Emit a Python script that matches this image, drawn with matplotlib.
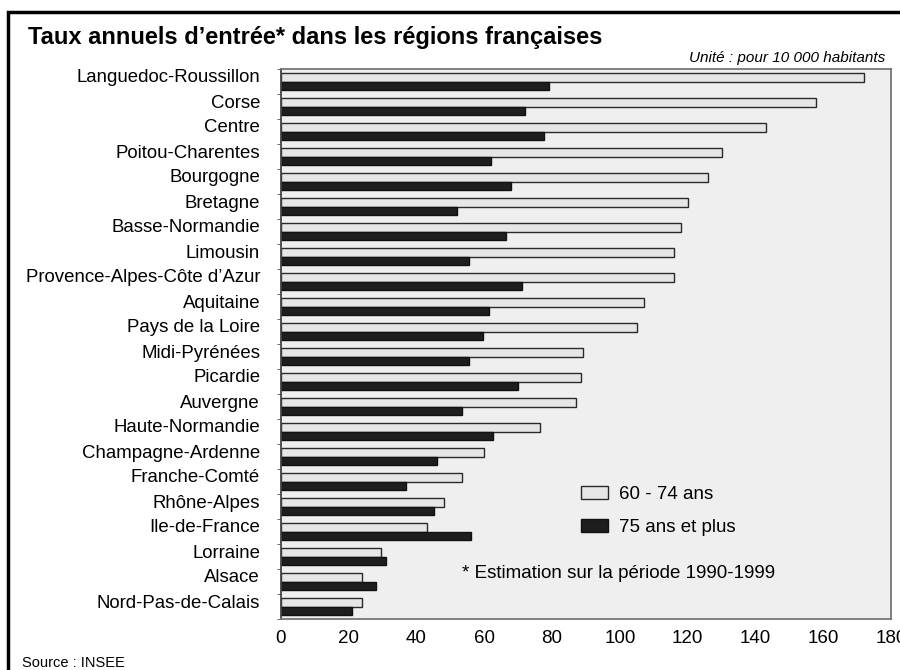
import numpy as np
import matplotlib
matplotlib.use('Agg')
import matplotlib.pyplot as plt
from matplotlib.patches import Rectangle

plt.rcParams['font.family'] = ['Liberation Sans', 'DejaVu Sans']

regions = ["Languedoc-Roussillon", "Corse", "Centre", "Poitou-Charentes",
           "Bourgogne", "Bretagne", "Basse-Normandie", "Limousin",
           "Provence-Alpes-Côte d’Azur", "Aquitaine", "Pays de la Loire",
           "Midi-Pyrénées", "Picardie", "Auvergne", "Haute-Normandie",
           "Champagne-Ardenne", "Franche-Comté", "Rhône-Alpes",
           "Ile-de-France", "Lorraine", "Alsace", "Nord-Pas-de-Calais"]
taux_60_74 = [172, 158, 143, 130, 126, 120, 118, 116, 116, 107, 105,
              89, 88.5, 87, 76.5, 60, 53.5, 48, 43, 29.5, 24, 24]
taux_75_plus = [79, 72, 77.5, 62, 68, 52, 66.5, 55.5, 71, 61.5, 59.5,
                55.5, 70, 53.5, 62.5, 46, 37, 45, 56, 31, 28, 21]
xticks = [0, 20, 40, 60, 80, 100, 120, 140, 160, 180]

W, H = 900, 670
fig = plt.figure(figsize=(9, 6.7), dpi=100)
ax = fig.add_axes([281 / W, 1 - 619 / H, 610 / W, 550 / H])

y = np.arange(len(regions))
h = 0.33
b1 = ax.barh(y - h / 2, taux_60_74, height=h, color='#e6e6e6',
             edgecolor='#2a2a2a', linewidth=1.0, label='60 - 74 ans')
b2 = ax.barh(y + h / 2, taux_75_plus, height=h, color='#1e1e1e',
             edgecolor='#111111', linewidth=1.0, label='75 ans et plus')

ax.set_facecolor('#efefef')
ax.set_xlim(0, 180)
ax.set_ylim(len(regions) - 0.5, -0.5)
ax.set_xticks(xticks)
ax.tick_params(axis='x', length=0, labelsize=13.5, pad=8)

# labels sit next to the upper bar of each pair, ticks mark the boundaries
ax.set_yticks(y - 0.22)
ax.set_yticklabels(regions, fontsize=13.4)
ax.tick_params(axis='y', which='major', length=0, pad=15)
ax.set_yticks(np.arange(len(regions) + 1) - 0.5, minor=True)
ax.tick_params(axis='y', which='minor', length=3, color='#555555')

for side in ['top', 'right', 'bottom']:
    ax.spines[side].set_color('#777777')
    ax.spines[side].set_linewidth(1.3)
ax.spines['left'].set_color('#444444')
ax.spines['left'].set_linewidth(1.3)

ax.legend(handles=[b1, b2], loc='upper left',
          bbox_to_anchor=(581 / W, 1 - 486 / H),
          bbox_transform=fig.transFigure, frameon=False, fontsize=13.5,
          borderpad=0, borderaxespad=0,
          handlelength=1.45, handleheight=0.65, labelspacing=0.85,
          handletextpad=0.6)

fig.text(462 / W, 1 - 574 / H, '* Estimation sur la période 1990-1999',
         fontsize=13.5, va='center')

fig.text(28 / W, 1 - 44 / H, 'Taux annuels d’entrée* dans les régions françaises',
         fontsize=17, fontweight='bold', va='baseline')
fig.text(885 / W, 1 - 58 / H, 'Unité : pour 10 000 habitants', fontsize=11,
         style='italic', ha='right', va='center')
fig.text(22 / W, 1 - 663 / H, 'Source : INSEE', fontsize=10.5, va='center')

# frame around the whole figure
fig.patches.append(Rectangle((8 / W, -0.1), 1.2, (H - 12) / H + 0.1,
                             transform=fig.transFigure, fill=False,
                             edgecolor='black', linewidth=2.5))

fig.savefig('out.png', dpi=100)
